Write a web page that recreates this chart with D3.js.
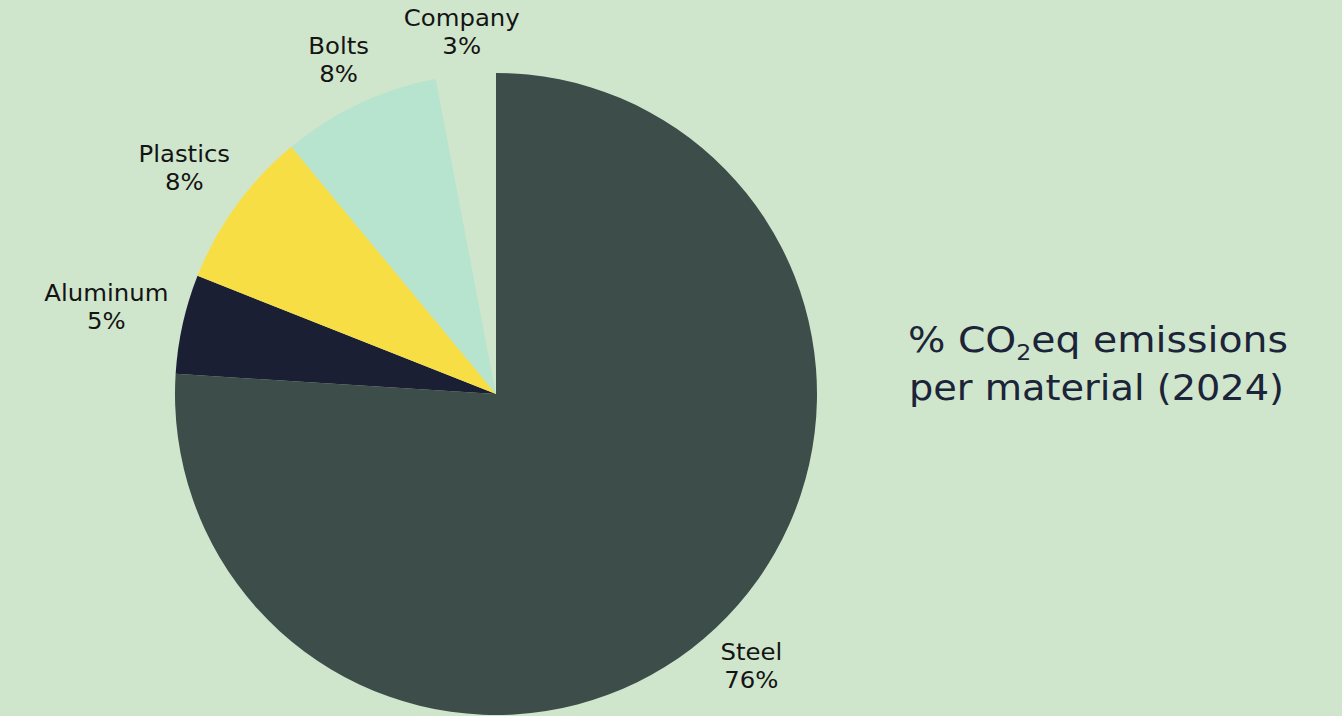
<!DOCTYPE html>
<html>
<head>
<meta charset="utf-8">
<script src="https://cdn.jsdelivr.net/npm/d3@7"></script>
<style>
    html, body { margin: 0; padding: 0; background: #d0e6cc; }
    svg { display: block; }
</style>
</head>
<body>
<div id="chart"></div>
<script>
const materials = ["Steel", "Aluminum", "Plastics", "Bolts", "Company"];
const shares = [76, 5, 8, 8, 3];
const colors = ["#3d4d4a", "#1b1f33", "#f8de45", "#b7e4cf", "#d0e6cc"];
const titleLines = ["% CO", "2", "eq emissions", "per material (2024)"];

const width = 1342, height = 716;
const cx = 496, cy = 394, radius = 321;
const labelFont = "'DejaVu Sans', sans-serif";
const widen = 1.06; // the original face runs a little wider

const svg = d3.select("#chart")
    .append("svg")
    .attr("width", width)
    .attr("height", height);

svg.append("rect")
    .attr("width", width)
    .attr("height", height)
    .attr("fill", "#d0e6cc");

const data = materials.map((m, i) => ({ name: m, value: shares[i], color: colors[i] }));

const pie = d3.pie()
    .sort(null)
    .value(d => d.value);

const arc = d3.arc()
    .innerRadius(0)
    .outerRadius(radius);

const g = svg.append("g")
    .attr("transform", "translate(" + cx + "," + cy + ")");

const arcs = pie(data);

g.selectAll("path.slice")
    .data(arcs)
    .enter()
    .append("path")
    .attr("class", "slice")
    .attr("d", arc)
    .attr("fill", d => d.data.color);

function stretch(sel) {
    sel.each(function () {
        let w = this.getComputedTextLength();
        d3.select(this)
            .attr("textLength", w * widen)
            .attr("lengthAdjust", "spacingAndGlyphs");
    });
}

// outside labels, pushed out along the mid angle by the label's half size
const labelR = 333, halfH = 26;
const labels = g.selectAll("g.label")
    .data(arcs)
    .enter()
    .append("g")
    .attr("class", "label");

labels.each(function (d) {
    let node = d3.select(this);
    let t1 = node.append("text")
        .attr("text-anchor", "middle")
        .attr("y", -5.5)
        .style("font-family", labelFont)
        .style("font-size", "23px")
        .attr("fill", "#141414")
        .text(d.data.name);
    let t2 = node.append("text")
        .attr("text-anchor", "middle")
        .attr("y", 22.5)
        .style("font-family", labelFont)
        .style("font-size", "23px")
        .attr("fill", "#141414")
        .text(d.data.value + "%");
    stretch(t1);
    stretch(t2);
});

labels.each(function (d) {
    let box = this.getBBox();
    let mid = (d.startAngle + d.endAngle) / 2;
    let dx = Math.sin(mid), dy = -Math.cos(mid);
    let dist = labelR + Math.abs(dx) * box.width / 2 + Math.abs(dy) * halfH;
    d3.select(this).attr("transform", "translate(" + (dx * dist) + "," + (dy * dist) + ")");
});

// title on the right
const title1 = svg.append("text")
    .attr("x", 908)
    .attr("y", 352)
    .style("font-family", labelFont)
    .style("font-size", "35px")
    .attr("fill", "#1b2438");

title1.append("tspan").text(titleLines[0]);
title1.append("tspan").attr("dy", 8).style("font-size", "21px").text(titleLines[1]);
title1.append("tspan").attr("dy", -8).text(titleLines[2]);

const title2 = svg.append("text")
    .attr("x", 909)
    .attr("y", 400)
    .style("font-family", labelFont)
    .style("font-size", "35px")
    .attr("fill", "#1b2438")
    .text(titleLines[3]);

title1.attr("textLength", 380).attr("lengthAdjust", "spacingAndGlyphs");
title2.attr("textLength", 375).attr("lengthAdjust", "spacingAndGlyphs");
</script>
</body>
</html>
